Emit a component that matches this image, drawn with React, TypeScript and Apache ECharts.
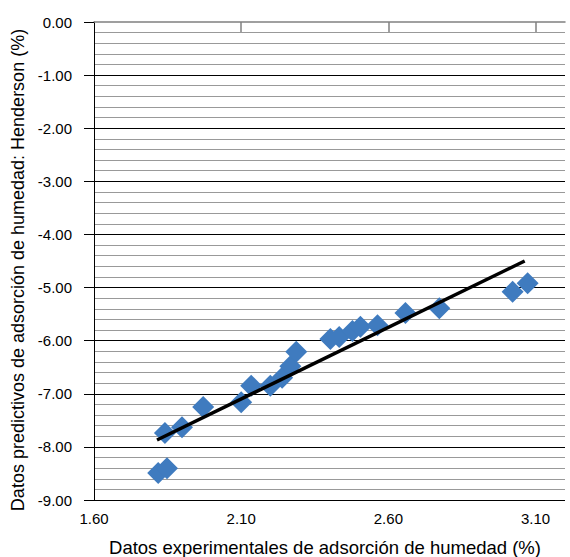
import React, { useEffect, useRef } from "react";
import * as echarts from "echarts";

const experimentalX = [
  1.818, 1.848, 1.841, 1.899, 1.971, 2.1, 2.134, 2.199, 2.239, 2.267,
  2.287, 2.403, 2.433, 2.478, 2.505, 2.563, 2.658, 2.773, 3.022, 3.073,
];
const predictedY = [
  -8.49, -8.4, -7.74, -7.63, -7.25, -7.16, -6.85, -6.85, -6.7, -6.48,
  -6.21, -5.97, -5.93, -5.82, -5.74, -5.71, -5.48, -5.39, -5.08, -4.92,
];
const trendX = [1.814, 3.063];
const trendY = [-7.87, -4.5];
const xTickLabels = [1.6, 2.1, 2.6, 3.1];
const xTopTicks = [2.1, 2.6, 3.1];
const yMin = -9;
const yMax = 0;
const xMin = 1.6;
const xMax = 3.2;

const xTitle = "Datos experimentales de adsorción de humedad (%)";
const yTitle = "Datos predictivos de adsorción de humedad: Henderson (%)";

const FONT = "'Liberation Sans', Arial, Helvetica, sans-serif";

export default function App() {
  const ref = useRef<HTMLDivElement>(null);
  useEffect(() => {
    if (!ref.current) return;
    const chart = echarts.init(ref.current, undefined, { renderer: "svg" });
    const points = experimentalX.map((x, i) => [x, predictedY[i]]);
    const trend = trendX.map((x, i) => [x, trendY[i]]);
    chart.setOption({
      animation: false,
      backgroundColor: "#ffffff",
      textStyle: { fontFamily: FONT },
      grid: {
        left: 94,
        right: 5,
        top: 22,
        bottom: 57,
        containLabel: false,
        outerBoundsMode: "none",
      },
      xAxis: [
        {
          type: "value",
          position: "bottom",
          min: xMin,
          max: xMax,
          axisLine: { show: false },
          axisTick: { show: false },
          splitLine: { show: false },
          axisLabel: {
            customValues: xTickLabels,
            formatter: (v: number) => v.toFixed(2),
            fontSize: 15,
            color: "#000",
            margin: 11,
            fontFamily: FONT,
          },
        },
        {
          type: "value",
          position: "top",
          min: xMin,
          max: xMax,
          axisLine: { show: true, lineStyle: { color: "#808080", width: 1.5 } },
          axisTick: {
            show: true,
            inside: true,
            length: 10,
            customValues: xTopTicks,
            lineStyle: { color: "#808080", width: 1.5 },
          },
          axisLabel: { show: false },
          splitLine: { show: false },
        },
      ],
      yAxis: {
        type: "value",
        min: yMin,
        max: yMax,
        interval: 1,
        axisLine: { show: true, lineStyle: { color: "#000", width: 1 } },
        axisTick: { show: true, length: 10, lineStyle: { color: "#000" } },
        axisLabel: {
          formatter: (v: number) => v.toFixed(2),
          fontSize: 15,
          color: "#000",
          margin: 22,
          fontFamily: FONT,
        },
        splitLine: {
          show: true,
          showMaxLine: false,
          lineStyle: { color: "#000", width: 1 },
        },
        minorTick: { show: false, splitNumber: 5 },
        minorSplitLine: { show: true, lineStyle: { color: "#999999", width: 1 } },
      },
      series: [
        {
          type: "scatter",
          xAxisIndex: 0,
          data: points,
          symbol: "diamond",
          symbolSize: 22,
          itemStyle: { color: "#3f7bbf", opacity: 1 },
          z: 3,
        },
        {
          type: "line",
          xAxisIndex: 0,
          data: trend,
          symbol: "none",
          lineStyle: { color: "#000", width: 3.5 },
          z: 4,
        },
      ],
      graphic: [
        {
          type: "text",
          x: 325,
          y: 547,
          style: {
            text: xTitle,
            fontSize: 18.5,
            fontFamily: FONT,
            fill: "#000",
            textAlign: "center",
            textVerticalAlign: "middle",
          },
        },
        {
          type: "text",
          x: 18,
          y: 270,
          rotation: Math.PI / 2,
          style: {
            text: yTitle,
            fontSize: 18,
            fontFamily: FONT,
            fill: "#000",
            textAlign: "center",
            textVerticalAlign: "middle",
          },
        },
      ],
    });
    return () => chart.dispose();
  }, []);
  return (
    <div
      ref={ref}
      style={{ position: "fixed", left: 0, top: 0, width: 570, height: 557, background: "#fff" }}
    />
  );
}
